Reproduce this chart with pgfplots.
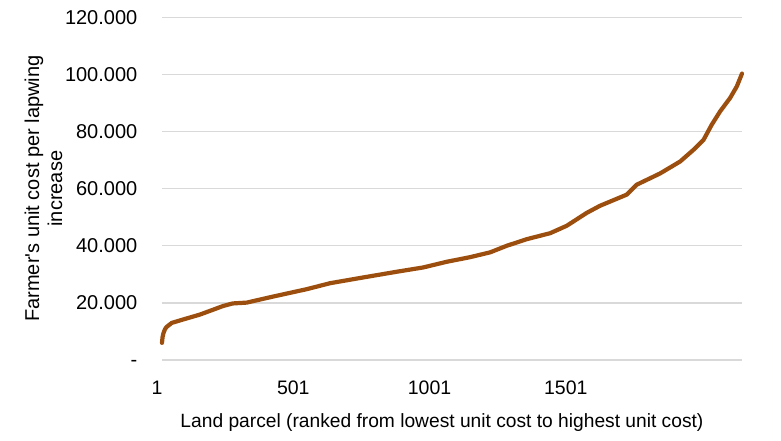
\documentclass[border=0pt]{standalone}
\usepackage{fontspec}
\setmainfont{Liberation Sans}
\usepackage{pgfplots}
\pgfplotsset{compat=1.18}
\definecolor{curvebrown}{RGB}{156,78,14}
\definecolor{gridgray}{RGB}{217,217,217}
\begin{document}
\begin{tikzpicture}
\useasboundingbox (0,0) rectangle (781pt,441pt);
\begin{axis}[
  at={(162pt,81pt)}, anchor=south west,
  scale only axis, width=580pt, height=342.7pt,
  xmin=1, xmax=2129, ymin=0, ymax=120,
  clip=false,
  axis line style={draw=none},
  major tick length=0pt,
  ymajorgrids, xmajorgrids=false,
  y grid style={gridgray, line width=1.4pt},
  ytick={0,20,40,60,80,100,120},
  yticklabels={-,20.000,40.000,60.000,80.000,100.000,120.000},
  xtick={1,501,1001,1501},
  xticklabels={1,501,1001,1501},
  yticklabel style={font=\fontsize{20}{23}\selectfont, anchor=base east, inner xsep=0pt, xshift=-24.5pt, yshift=-7pt},
  xticklabel style={font=\fontsize{19.5}{22}\selectfont, anchor=base, yshift=-35pt, xshift=-5pt},
  xlabel={Land parcel (ranked from lowest unit cost to highest unit cost)},
  xlabel style={font=\fontsize{19.2}{22}\selectfont, at={(axis description cs:0.4827,0)}, anchor=base, yshift=-67pt},
  ylabel={Farmer\textquotesingle s unit cost per lapwing\\increase},
  ylabel style={font=\fontsize{20}{23}\selectfont, align=center, at={(axis description cs:-0.2043,0.5)}, anchor=center},
]
\addplot[curvebrown, line width=4.2pt, line join=round, line cap=round] table {
x y
1 6.0
3 8.0
6 9.3
12 10.8
18 11.6
37 13.0
79 14.2
140 15.9
225 18.9
260 19.8
312 20.1
408 22.2
532 24.8
618 26.9
739 28.9
862 30.9
959 32.4
1046 34.4
1131 36.0
1205 37.7
1266 40.0
1339 42.3
1425 44.4
1486 47.0
1559 51.5
1608 54.0
1706 57.9
1743 61.4
1828 65.3
1902 69.5
1951 73.6
1988 77.1
2018 82.4
2049 87.1
2085 91.7
2110 95.8
2129 100.3
};
\end{axis}
\end{tikzpicture}
\end{document}
